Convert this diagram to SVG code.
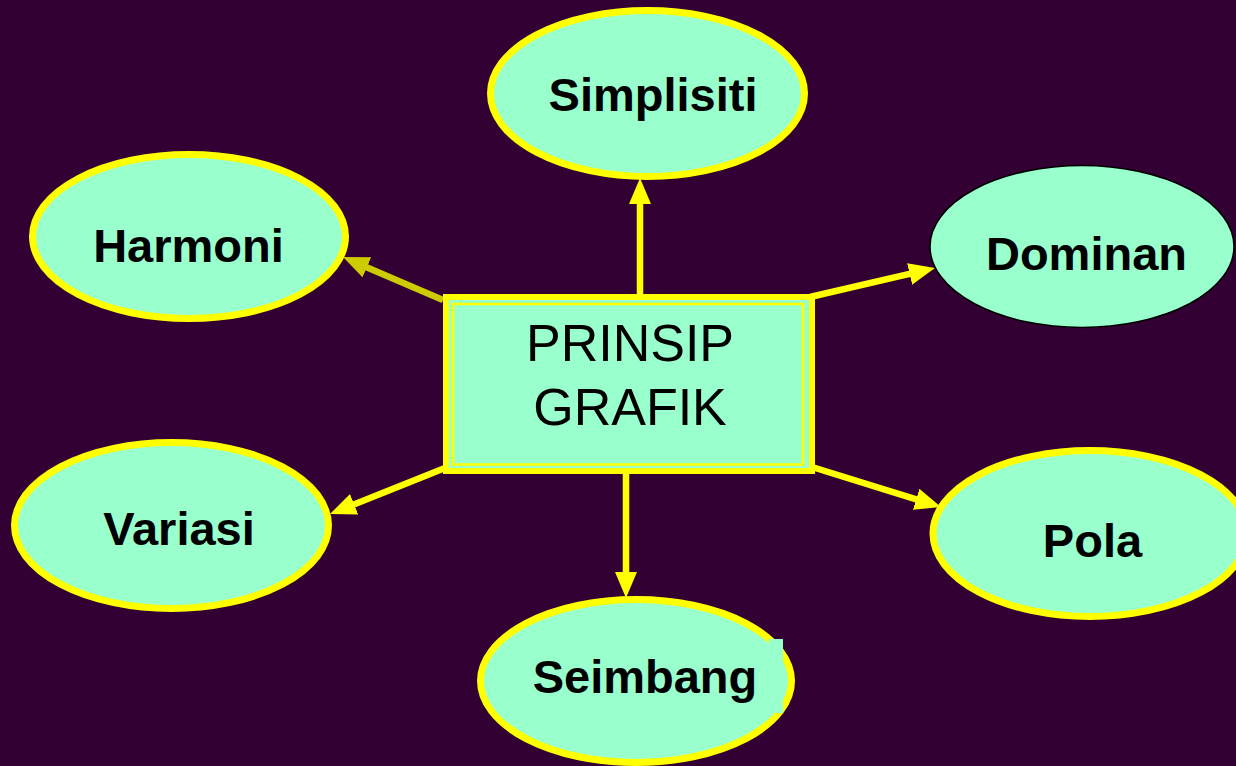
<svg xmlns="http://www.w3.org/2000/svg" width="1236" height="766" viewBox="0 0 1236 766">
<style>
.bg{fill:#330033}
.node{fill:#99FFCC;stroke:#FFFF00;stroke-width:7}
.node2{fill:#99FFCC;stroke:#000000;stroke-width:1.5}
.lbl{font-family:"Liberation Sans",Arial,sans-serif;font-weight:bold;font-size:47px;fill:#000;text-anchor:middle}
.ctr{font-family:"Liberation Sans",Arial,sans-serif;font-size:52px;fill:#000;text-anchor:middle}
.conn{stroke:#FFFF00;stroke-width:6.5;fill:none}
.conn2{stroke:#CCCC00;stroke-width:6.5;fill:none}
</style>
<defs>
<marker id="ah" markerUnits="userSpaceOnUse" markerWidth="26" markerHeight="22" refX="1" refY="11" orient="auto">
<path d="M0,0 L26,11 L0,22 z" fill="#FFFF00"/>
</marker>
<marker id="ah2" markerUnits="userSpaceOnUse" markerWidth="26" markerHeight="22" refX="1" refY="11" orient="auto">
<path d="M0,0 L26,11 L0,22 z" fill="#CCCC00"/>
</marker>
</defs>
<rect class="bg" x="0" y="0" width="1236" height="766"/>
<g id="connectors">
<line class="conn" x1="640" y1="296" x2="640" y2="203" marker-end="url(#ah)"/>
<line class="conn2" x1="443" y1="300" x2="366" y2="266.9" marker-end="url(#ah2)"/>
<line class="conn" x1="810" y1="297" x2="910.6" y2="273.7" marker-end="url(#ah)"/>
<line class="conn" x1="445" y1="468" x2="353.2" y2="504.7" marker-end="url(#ah)"/>
<line class="conn" x1="812" y1="467" x2="917.1" y2="499.6" marker-end="url(#ah)"/>
<line class="conn" x1="626" y1="472" x2="626" y2="573" marker-end="url(#ah)"/>
</g>
<g id="center">
<rect x="446" y="297" width="366" height="174" fill="#99FFCC" stroke="#FFFF00" stroke-width="6"/>
<rect x="453" y="304" width="350" height="160.5" fill="none" stroke="#FFFF00" stroke-width="2.5"/>
<text class="ctr" x="630" y="361">PRINSIP</text>
<text class="ctr" x="630" y="425">GRAFIK</text>
</g>
<g id="simplisiti">
<ellipse class="node" cx="647.5" cy="93.5" rx="157" ry="83"/>
<text class="lbl" x="653" y="111">Simplisiti</text>
</g>
<g id="harmoni">
<ellipse class="node" cx="189" cy="236.5" rx="156.5" ry="82"/>
<text class="lbl" x="188.5" y="261.5">Harmoni</text>
</g>
<g id="dominan">
<ellipse class="node2" cx="1082" cy="246.5" rx="152" ry="81"/>
<text class="lbl" x="1086.5" y="270">Dominan</text>
</g>
<g id="variasi">
<ellipse class="node" cx="171.5" cy="525.5" rx="157" ry="83"/>
<text class="lbl" x="179" y="545">Variasi</text>
</g>
<g id="pola">
<ellipse class="node" cx="1090" cy="533.5" rx="157" ry="83"/>
<text class="lbl" x="1092.5" y="556.5">Pola</text>
</g>
<g id="seimbang">
<ellipse class="node" cx="636" cy="681" rx="155.5" ry="81.5"/>
<rect x="769" y="639" width="14" height="74" fill="#99FFCC"/>
<text class="lbl" x="645" y="693">Seimbang</text>
</g>
</svg>
